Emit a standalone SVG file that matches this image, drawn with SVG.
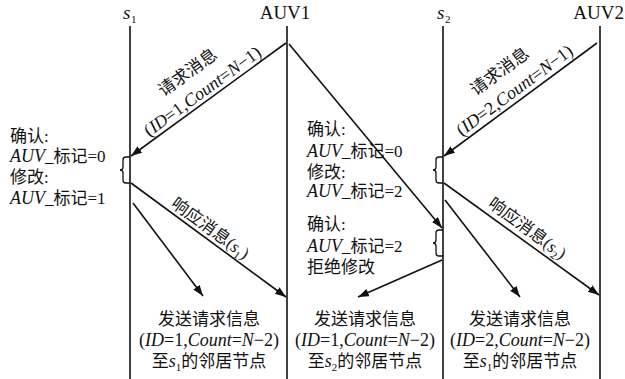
<svg xmlns="http://www.w3.org/2000/svg" width="625" height="379" viewBox="0 0 625 379">
<style>
text{font-family:"Liberation Serif","Noto Sans CJK SC",serif;font-size:17px;fill:#111}
.i{font-style:italic}
.L{font-size:18px}
.T{font-size:19px}
.sub{font-size:11px}
.ln{stroke:#111;stroke-width:1.6;fill:none}
.ar{stroke:#111;stroke-width:1.6;fill:none;marker-end:url(#ah)}
.br{stroke:#111;stroke-width:1.3;fill:none}
</style>
<defs>
<marker id="ah" markerUnits="userSpaceOnUse" markerWidth="12" markerHeight="10" refX="11" refY="4" orient="auto">
<path d="M0,0 L11,4 L0,8 Z" fill="#111"/>
</marker>
</defs>
<rect width="625" height="379" fill="#fff"/>
<g id="s1">
<line class="ln" x1="130" y1="26" x2="130" y2="379"/>
<text x="123" y="19" class="i T">s</text><text x="131" y="23" class="sub">1</text>
</g>
<g id="AUV1">
<line class="ln" x1="287" y1="26" x2="287" y2="379"/>
<text x="285" y="19" class="T" text-anchor="middle">AUV1</text>
</g>
<g id="s2">
<line class="ln" x1="443" y1="26" x2="443" y2="379"/>
<text x="437" y="19" class="i T">s</text><text x="445" y="23" class="sub">2</text>
</g>
<g id="AUV2">
<line class="ln" x1="600" y1="26" x2="600" y2="379"/>
<text x="624" y="19" class="T" text-anchor="end">AUV2</text>
</g>
<g id="connectors">
<line class="ar" x1="286" y1="43" x2="131" y2="156"/>
<line class="ar" x1="289" y1="44" x2="442" y2="228"/>
<line class="ar" x1="597" y1="43" x2="444" y2="156"/>
<line class="ar" x1="131" y1="183" x2="286" y2="297"/>
<line class="ar" x1="133" y1="203" x2="203" y2="296"/>
<line class="ar" x1="444" y1="183" x2="599" y2="295"/>
<line class="ar" x1="445" y1="200" x2="520" y2="297"/>
<line class="ar" x1="442" y1="260" x2="358" y2="297"/>
<path class="br" d="M130,157 H126 Q123,157 123,160 V167 Q123,170 120,170 Q123,170 123,173 V180 Q123,183 126,183 H130"/>
<path class="br" d="M443,157 H439 Q436,157 436,160 V167 Q436,170 433,170 Q436,170 436,173 V180 Q436,183 439,183 H443"/>
<path class="br" d="M443,230 H439 Q436,230 436,233 V240 Q436,243 433,243 Q436,243 436,246 V253 Q436,256 439,256 H443"/>
</g>
<g id="label-req1">
<text transform="translate(191,77) rotate(-36)" text-anchor="middle">请求消息</text>
<text transform="translate(206,96) rotate(-36)" class="L" text-anchor="middle">(<tspan class="i">ID</tspan>=1,<tspan class="i">Count</tspan>=<tspan class="i">N</tspan>−1)</text>
</g>
<g id="label-req2">
<text transform="translate(503,76) rotate(-36.5)" text-anchor="middle">请求消息</text>
<text transform="translate(518,95) rotate(-36.5)" class="L" text-anchor="middle">(<tspan class="i">ID</tspan>=2,<tspan class="i">Count</tspan>=<tspan class="i">N</tspan>−1)</text>
</g>
<g id="label-resp1">
<text transform="translate(207,233) rotate(36)" text-anchor="middle">响应消息(<tspan class="i">s</tspan><tspan class="sub" dy="4">1</tspan><tspan dy="-4">)</tspan></text>
</g>
<g id="label-resp2">
<text transform="translate(524,233) rotate(36)" text-anchor="middle">响应消息(<tspan class="i">s</tspan><tspan class="sub" dy="4">2</tspan><tspan dy="-4">)</tspan></text>
</g>
<g id="note-s1">
<text x="10" y="142">确认:</text>
<text x="10" y="162"><tspan class="i L">AUV</tspan>_标记=0</text>
<text x="10" y="183">修改:</text>
<text x="10" y="204"><tspan class="i L">AUV</tspan>_标记=1</text>
</g>
<g id="note-s2a">
<text x="307" y="135">确认:</text>
<text x="307" y="157"><tspan class="i L">AUV</tspan>_标记=0</text>
<text x="307" y="178">修改:</text>
<text x="307" y="197"><tspan class="i L">AUV</tspan>_标记=2</text>
</g>
<g id="note-s2b">
<text x="307" y="230">确认:</text>
<text x="307" y="252"><tspan class="i L">AUV</tspan>_标记=2</text>
<text x="307" y="273">拒绝修改</text>
</g>
<g id="out1">
<text x="209" y="325" text-anchor="middle">发送请求信息</text>
<text x="209" y="346" class="L" text-anchor="middle">(<tspan class="i">ID</tspan>=1,<tspan class="i">Count</tspan>=<tspan class="i">N</tspan>−2)</text>
<text x="209" y="367" text-anchor="middle">至<tspan class="i L">s</tspan><tspan class="sub" dy="4">1</tspan><tspan dy="-4">的邻居节点</tspan></text>
</g>
<g id="out2">
<text x="365" y="325" text-anchor="middle">发送请求信息</text>
<text x="365" y="346" class="L" text-anchor="middle">(<tspan class="i">ID</tspan>=1,<tspan class="i">Count</tspan>=<tspan class="i">N</tspan>−2)</text>
<text x="365" y="367" text-anchor="middle">至<tspan class="i L">s</tspan><tspan class="sub" dy="4">2</tspan><tspan dy="-4">的邻居节点</tspan></text>
</g>
<g id="out3">
<text x="520" y="325" text-anchor="middle">发送请求信息</text>
<text x="520" y="346" class="L" text-anchor="middle">(<tspan class="i">ID</tspan>=2,<tspan class="i">Count</tspan>=<tspan class="i">N</tspan>−2)</text>
<text x="520" y="367" text-anchor="middle">至<tspan class="i L">s</tspan><tspan class="sub" dy="4">1</tspan><tspan dy="-4">的邻居节点</tspan></text>
</g>
</svg>
